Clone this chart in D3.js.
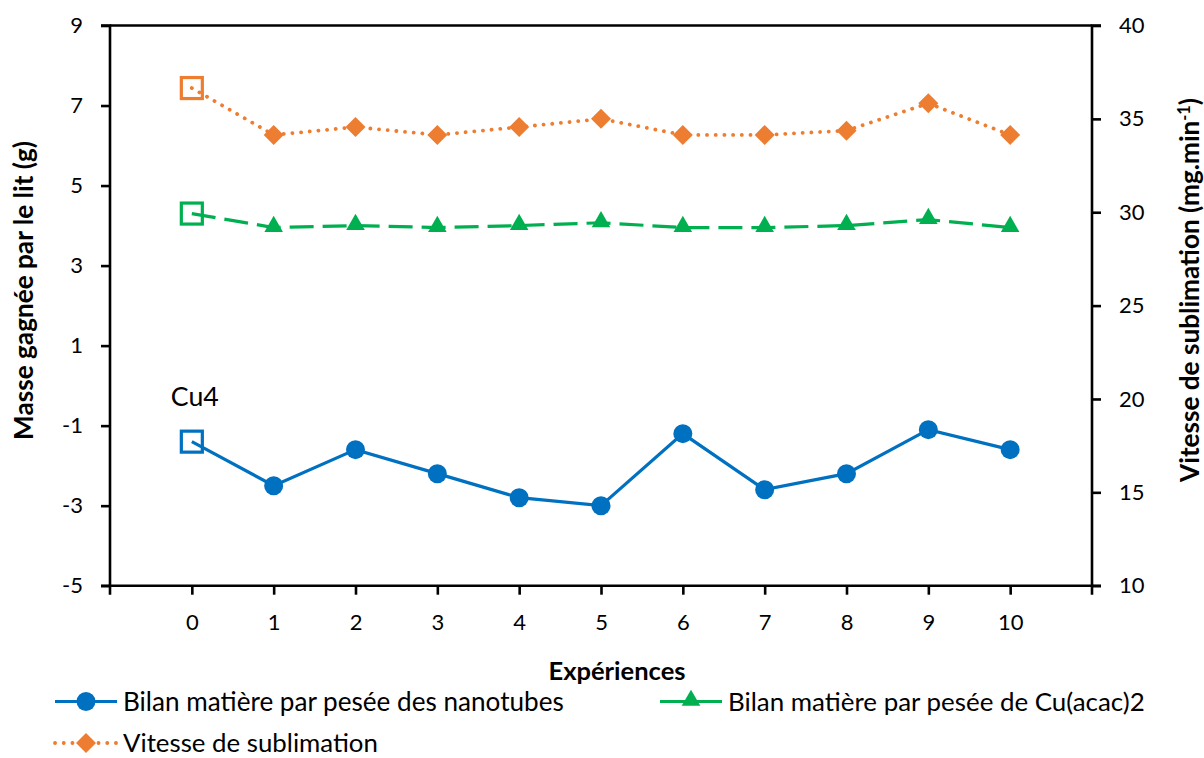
<!DOCTYPE html>
<html><head><meta charset="utf-8">
<script src="https://cdn.jsdelivr.net/npm/d3@7"></script>
<style>
html,body{margin:0;padding:0;background:#fff;}
svg{display:block;font-family:Lato,"Open Sans",sans-serif;}
</style></head>
<body>
<svg id="chart" width="1204" height="758"></svg>
<script>
const experiences = [0,1,2,3,4,5,6,7,8,9,10];
const bilanNanotubes = [-1.4,-2.5,-1.6,-2.2,-2.8,-3.0,-1.2,-2.6,-2.2,-1.1,-1.6];
const bilanCuAcac = [4.3,3.95,4.0,3.95,4.0,4.07,3.95,3.95,4.0,4.15,3.95];
const vitesseSublimation = [36.65,34.14,34.56,34.14,34.56,35.0,34.14,34.14,34.37,35.83,34.14];
const leftTicks = [-5,-3,-1,1,3,5,7,9];
const rightTicks = [10,15,20,25,30,35,40];
const seriesNames = ["Bilan matière par pesée des nanotubes","Bilan matière par pesée de Cu(acac)2","Vitesse de sublimation"];
const annotation = "Cu4";

const svg = d3.select("#chart");
const L = 110, R = 1092, T = 25.5, B = 585.7;
const x = d3.scaleLinear().domain([-1, 11]).range([L, R]);
const yL = d3.scaleLinear().domain([-5, 9]).range([B, T]);
const yR = d3.scaleLinear().domain([10, 40]).range([B, T]);

// scale a text's font size so that it spans the width seen in the reference
function fit(sel, target){
  const cur = parseFloat(sel.attr("font-size"));
  const len = sel.node().getComputedTextLength();
  if(len > 0) sel.attr("font-size", cur * target / len);
  return sel;
}

const fs = 22, tk = 9;
const fmt = d => String(d);
svg.append("line").attr("x1",L).attr("x2",R).attr("y1",T).attr("y2",T).attr("stroke","#000").attr("stroke-width",2.6);

const axL = svg.append("g").attr("transform",`translate(${L},0)`)
  .call(d3.axisLeft(yL).tickValues(leftTicks).tickSize(tk).tickPadding(18).tickFormat(fmt));
const axR = svg.append("g").attr("transform",`translate(${R},0)`)
  .call(d3.axisRight(yR).tickValues(rightTicks).tickSize(tk).tickPadding(18).tickFormat(fmt));
const axB = svg.append("g").attr("transform",`translate(0,${B})`)
  .call(d3.axisBottom(x).tickValues(experiences).tickSize(tk).tickPadding(20).tickFormat(fmt));
[axL,axR,axB].forEach(g=>{
  g.select(".domain").attr("stroke","#000").attr("stroke-width",2.6);
  g.selectAll(".tick line").attr("stroke","#000").attr("stroke-width",2.6);
  g.selectAll("text").attr("font-size",fs).attr("fill","#000").attr("font-family","Lato");
});
axL.select(".domain").attr("d",`M-${tk},${B}H0V${T}H-${tk}`);
axR.select(".domain").attr("d",`M${tk},${B}H0V${T}H${tk}`);
axB.select(".domain").attr("d",`M${L},${tk}V0H${R}V${tk}`);

// axis titles
fit(svg.append("text").attr("transform",`translate(33,290.5) rotate(-90)`)
  .attr("text-anchor","middle").attr("font-weight","bold").attr("font-size",25).text("Masse gagnée par le lit (g)"), 299);
const rt = svg.append("text").attr("transform",`translate(1199,290) rotate(-90)`)
  .attr("text-anchor","middle").attr("font-weight","bold").attr("font-size",25);
rt.append("tspan").text("Vitesse de sublimation (mg.min");
rt.append("tspan").attr("baseline-shift","super").attr("font-size","0.62em").text("-1");
rt.append("tspan").text(")");
fit(rt, 384);
fit(svg.append("text").attr("x",617).attr("y",680).attr("text-anchor","middle")
  .attr("font-weight","bold").attr("font-size",25).text("Expériences"), 137);

const colors = ["#0070C0","#00B050","#ED7D31"];
const series = [
  {vals: bilanNanotubes, y: yL, color: colors[0], dash: null, marker: "circle"},
  {vals: bilanCuAcac, y: yL, color: colors[1], dash: "24 9", marker: "triangle"},
  {vals: vitesseSublimation, y: yR, color: colors[2], dash: "0.1 8.6", marker: "diamond"}
];
const sym = {
  circle: d3.symbol().type(d3.symbolCircle).size(Math.PI*9.5*9.5),
  triangle: d3.symbol().type(d3.symbolTriangle).size(150),
  diamond: d3.symbol().type(d3.symbolSquare).size(200)
};
series.forEach(s=>{
  const line = d3.line().x((d,i)=>x(experiences[i])).y(d=>s.y(d));
  svg.append("path").attr("d",line(s.vals)).attr("fill","none").attr("stroke",s.color)
    .attr("stroke-width", s.marker==="diamond"?3.8:3.2)
    .attr("stroke-dasharray",s.dash).attr("stroke-linecap", s.marker==="diamond"?"round":"butt");
});
series.forEach(s=>{
  const g = svg.append("g");
  s.vals.forEach((v,i)=>{
    const cx = x(experiences[i]), cy = s.y(v);
    if(i===0){
      g.append("rect").attr("x",cx-10.5).attr("y",cy-10.5).attr("width",21).attr("height",21)
        .attr("fill","none").attr("stroke",s.color).attr("stroke-width",3.2);
    } else {
      g.append("path").attr("d",sym[s.marker]())
        .attr("transform",`translate(${cx},${cy + (s.marker==="triangle"?-1:0)}) rotate(${s.marker==="diamond"?45:0})`)
        .attr("fill",s.color);
    }
  });
});
fit(svg.append("text").attr("x",x(0)+3).attr("y",406).attr("text-anchor","middle")
  .attr("font-size",25).text(annotation), 48);

// legend
const legendPos = [[55,701.5],[660,701.5],[55,743]];
const legendWidths = [441, 417, 255];
series.forEach((s,i)=>{
  const [lx,ly] = legendPos[i];
  const g = svg.append("g").attr("transform",`translate(${lx},${ly})`);
  g.append("line").attr("x1",0).attr("x2",62).attr("y1",0).attr("y2",0).attr("stroke",s.color)
    .attr("stroke-width",s.marker==="diamond"?3.8:3.2).attr("stroke-dasharray",s.marker==="diamond"?"0.1 8.6":null)
    .attr("stroke-linecap",s.marker==="diamond"?"round":"butt");
  g.append("path").attr("d",sym[s.marker]()).attr("transform",`translate(31,${s.marker==="triangle"?-1:0}) rotate(${s.marker==="diamond"?45:0})`).attr("fill",s.color);
  fit(g.append("text").attr("x",68).attr("y",9).attr("font-size",26).text(seriesNames[i]), legendWidths[i]);
});
</script>
</body></html>
